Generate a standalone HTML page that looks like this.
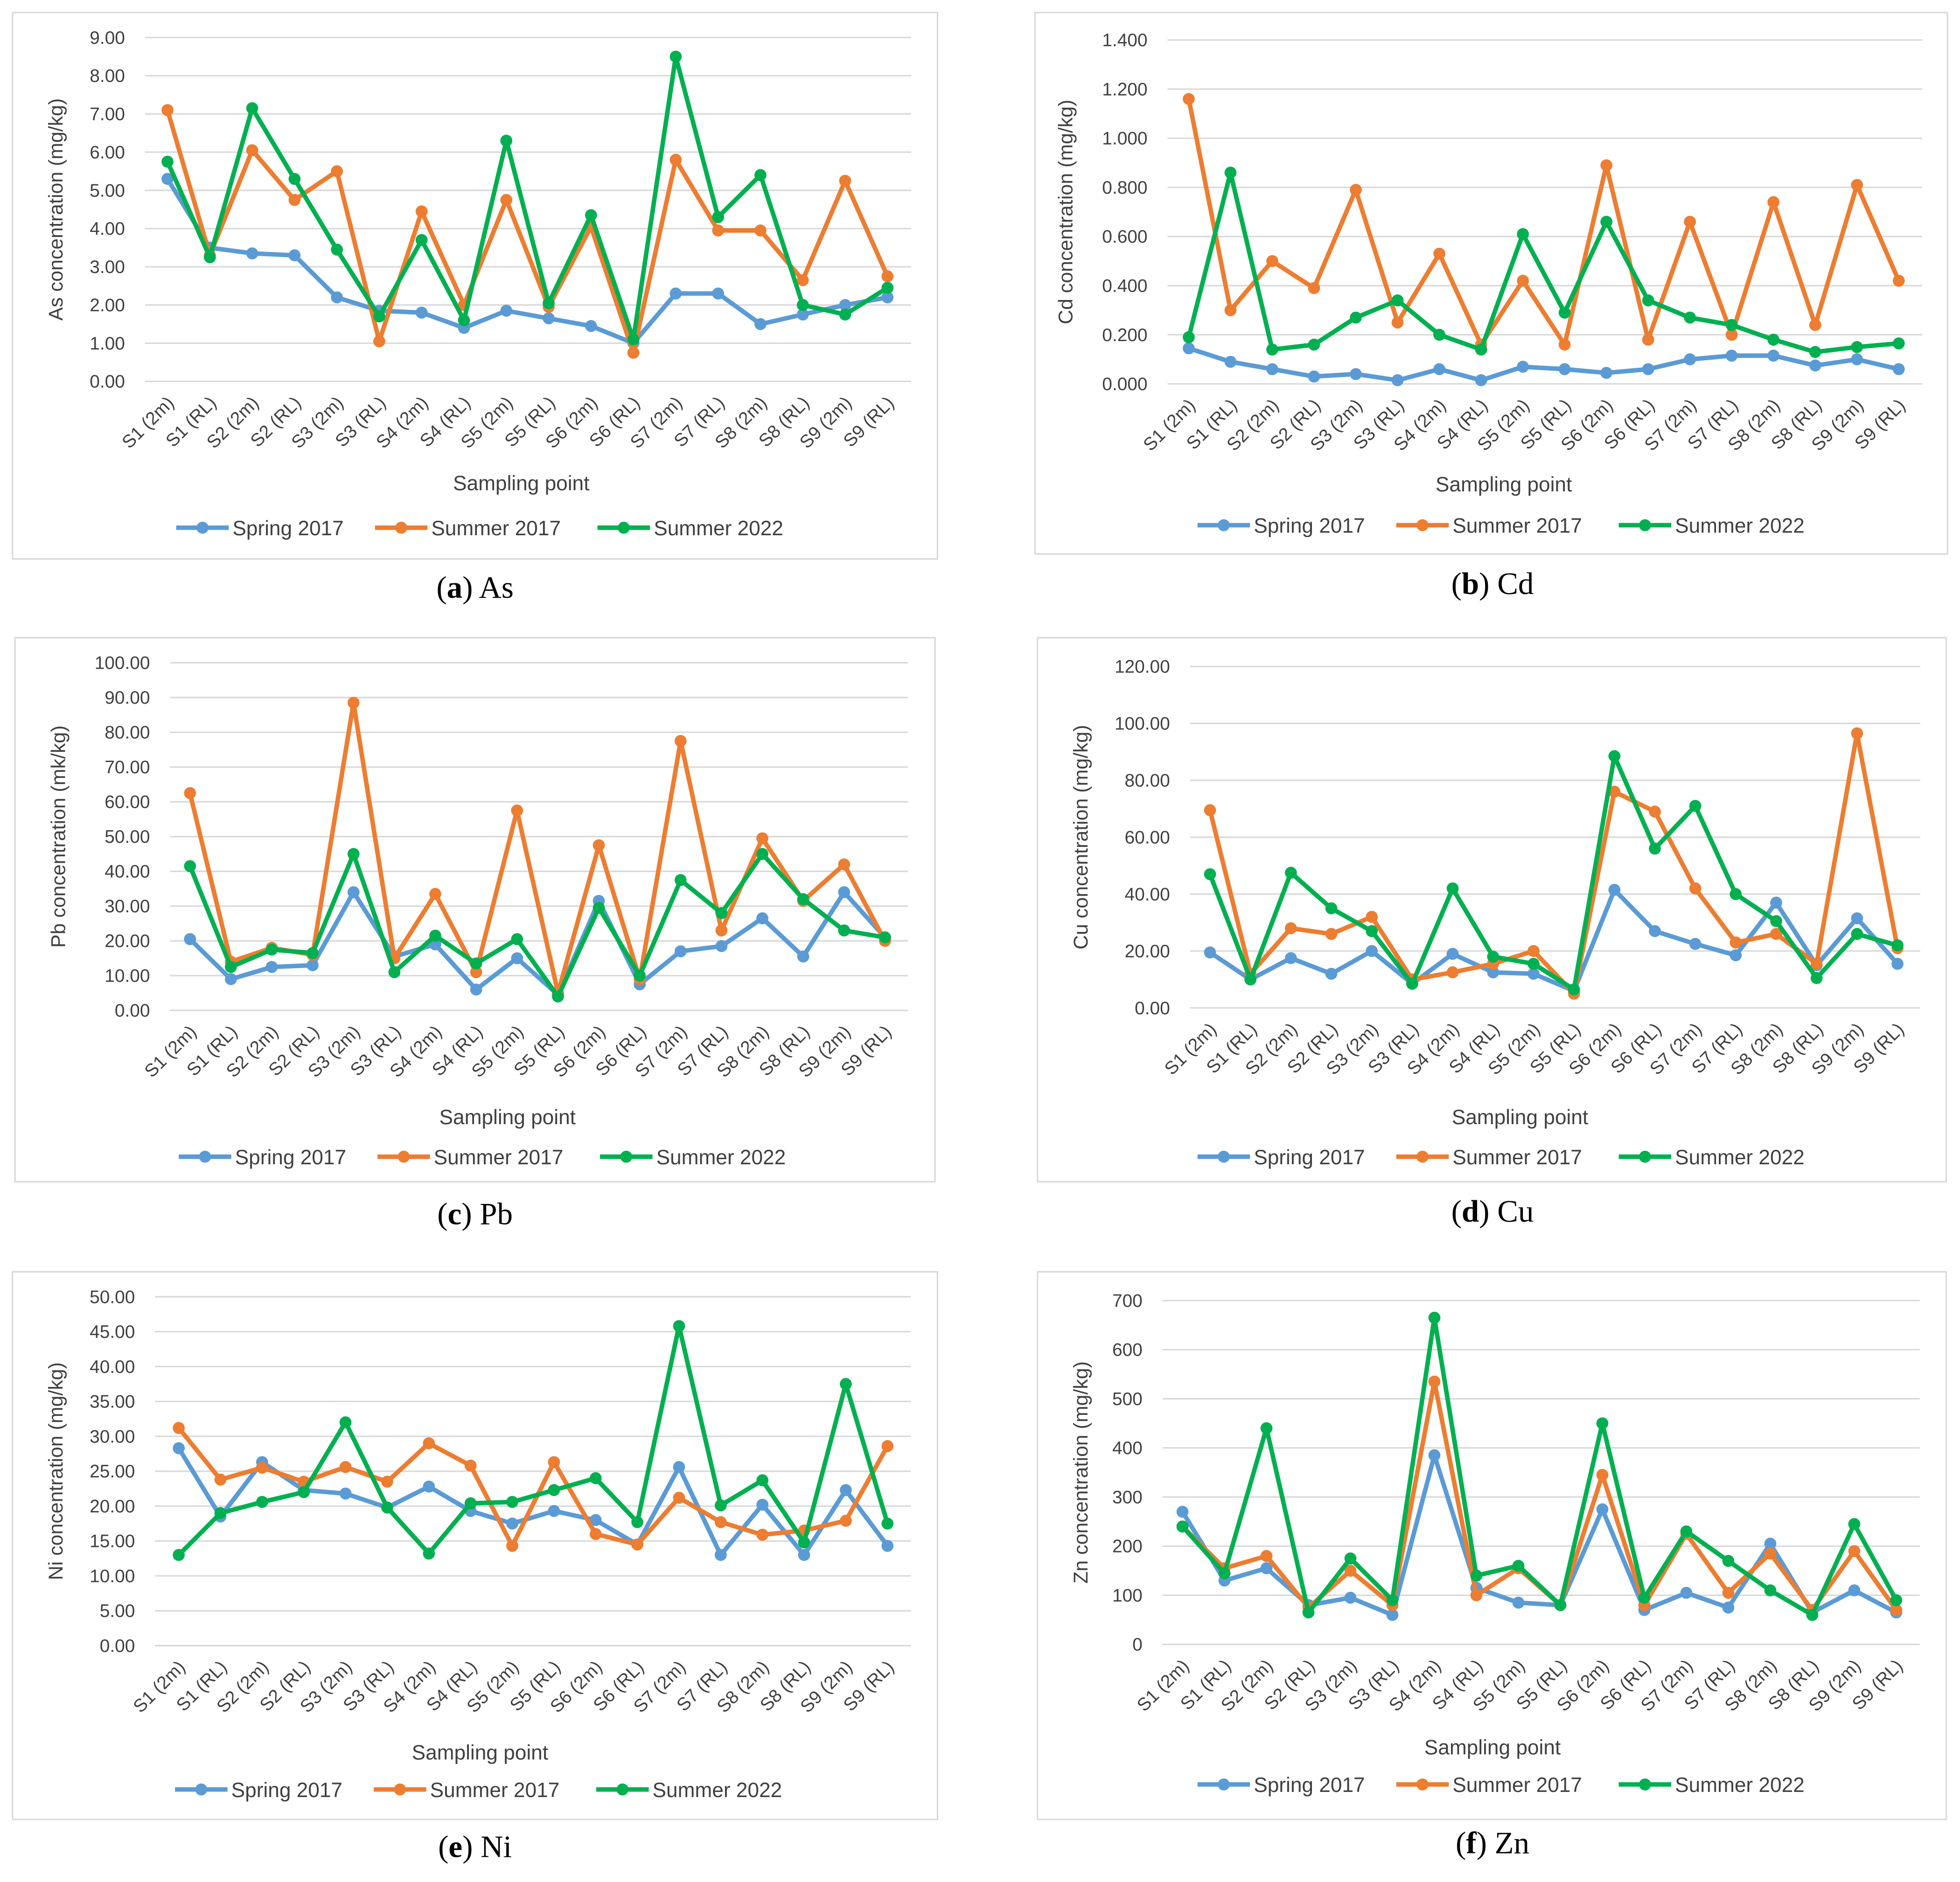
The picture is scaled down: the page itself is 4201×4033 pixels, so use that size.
<!DOCTYPE html>
<html><head><meta charset="utf-8"><style>
html,body{margin:0;padding:0;background:#fff;}
svg{display:block;}
text{font-family:"Liberation Sans","DejaVu Sans",sans-serif;fill:#404040;}
.cap{font-family:"Liberation Serif",serif;fill:#000;}
</style></head><body>
<svg id="fig" width="4201" height="4033" viewBox="0 0 1568 1505" preserveAspectRatio="none" xmlns="http://www.w3.org/2000/svg"></svg>
<script>
const categories=["S1 (2m)","S1 (RL)","S2 (2m)","S2 (RL)","S3 (2m)","S3 (RL)","S4 (2m)","S4 (RL)","S5 (2m)","S5 (RL)","S6 (2m)","S6 (RL)","S7 (2m)","S7 (RL)","S8 (2m)","S8 (RL)","S9 (2m)","S9 (RL)"];
const seriesNames=["Spring 2017","Summer 2017","Summer 2022"];
const asSpring=[5.3,3.5,3.35,3.3,2.2,1.85,1.8,1.4,1.85,1.65,1.45,1.0,2.3,2.3,1.5,1.75,2.0,2.2];
const asSummer17=[7.1,3.3,6.05,4.75,5.5,1.05,4.45,2.0,4.75,1.95,4.05,0.75,5.8,3.95,3.95,2.65,5.25,2.75];
const asSummer22=[5.75,3.25,7.15,5.3,3.45,1.7,3.7,1.6,6.3,2.05,4.35,1.1,8.5,4.3,5.4,2.0,1.75,2.45];
const cdSpring=[0.145,0.09,0.06,0.03,0.04,0.015,0.06,0.015,0.07,0.06,0.045,0.06,0.1,0.115,0.115,0.075,0.1,0.06];
const cdSummer17=[1.16,0.30,0.50,0.39,0.79,0.25,0.53,0.16,0.42,0.16,0.89,0.18,0.66,0.20,0.74,0.24,0.81,0.42];
const cdSummer22=[0.19,0.86,0.14,0.16,0.27,0.34,0.20,0.14,0.61,0.29,0.66,0.34,0.27,0.24,0.18,0.13,0.15,0.165];
const pbSpring=[20.5,9,12.5,13,34,15.5,19,6,15,4.5,31.5,7.5,17,18.5,26.5,15.5,34,21];
const pbSummer17=[62.5,14,18,16,88.5,15,33.5,11,57.5,5,47.5,9,77.5,23,49.5,31.5,42,20];
const pbSummer22=[41.5,12.5,17.5,16.5,45,11,21.5,13.5,20.5,4,29.5,10,37.5,28,45,32,23,21];
const cuSpring=[19.5,10,17.5,12,20,8.5,19,12.5,12,6,41.5,27,22.5,18.5,37,15,31.5,15.5];
const cuSummer17=[69.5,12,28,26,32,10,12.5,15.5,20,5,76,69,42,23,26,15.5,96.5,21];
const cuSummer22=[47,10,47.5,35,27,8.5,42,18,15.5,6.5,88.5,56,71,40,30.5,10.5,26,22];
const niSpring=[28.3,18.5,26.3,22.3,21.8,19.8,22.8,19.3,17.5,19.3,18.0,14.5,25.6,13.0,20.2,13.0,22.3,14.3];
const niSummer17=[31.2,23.8,25.5,23.5,25.6,23.5,29.0,25.8,14.3,26.3,16.0,14.5,21.2,17.7,15.9,16.5,17.9,28.6];
const niSummer22=[13.0,19.0,20.6,22.0,32.0,19.8,13.2,20.4,20.6,22.3,24.0,17.7,45.8,20.1,23.7,14.8,37.5,17.5];
const znSpring=[270,130,155,80,95,60,385,115,85,80,275,70,105,75,205,65,110,65];
const znSummer17=[240,155,180,75,150,80,535,100,155,80,345,80,225,105,185,70,190,70];
const znSummer22=[240,145,440,65,175,90,665,140,160,80,450,95,230,170,110,60,245,90];
const asTicks=["0.00","1.00","2.00","3.00","4.00","5.00","6.00","7.00","8.00","9.00"];
const cdTicks=["0.000","0.200","0.400","0.600","0.800","1.000","1.200","1.400"];
const pbTicks=["0.00","10.00","20.00","30.00","40.00","50.00","60.00","70.00","80.00","90.00","100.00"];
const cuTicks=["0.00","20.00","40.00","60.00","80.00","100.00","120.00"];
const niTicks=["0.00","5.00","10.00","15.00","20.00","25.00","30.00","35.00","40.00","45.00","50.00"];
const znTicks=["0","100","200","300","400","500","600","700"];

const colors=["#5B9BD5","#ED7D31","#00B050"];
const NS="http://www.w3.org/2000/svg";
const svg=document.getElementById("fig");
function mk(tag,attrs,parent){const e=document.createElementNS(NS,tag);for(const k in attrs)e.setAttribute(k,attrs[k]);(parent||svg).appendChild(e);return e;}

const panels=[
 {key:"as",letter:"a",el:"As",title:"As concentration (mg/kg)",ticks:asTicks,max:9,data:[asSpring,asSummer17,asSummer22],box:[10,10,740,437],yTop:30,yBot:305,x0:134,x1:710,labEnd:100,titleX:50,xTitleY:387,xTitleX:417,legY:422,legX:141,capX:380,capY:470},
 {key:"cd",letter:"b",el:"Cd",title:"Cd concentration (mg/kg)",ticks:cdTicks,max:1.4,data:[cdSpring,cdSummer17,cdSummer22],box:[828,10,730,433],yTop:32,yBot:307,x0:951,x1:1519,labEnd:918,titleX:858,xTitleY:388,xTitleX:1203,legY:420,legX:958,capX:1194,capY:467},
 {key:"pb",letter:"c",el:"Pb",title:"Pb concentration (mk/kg)",ticks:pbTicks,max:100,data:[pbSpring,pbSummer17,pbSummer22],box:[12,510,736,435],yTop:530,yBot:808,x0:152,x1:708,labEnd:120,titleX:52,xTitleY:894,xTitleX:406,legY:925,legX:143,capX:380,capY:971},
 {key:"cu",letter:"d",el:"Cu",title:"Cu concentration (mg/kg)",ticks:cuTicks,max:120,data:[cuSpring,cuSummer17,cuSummer22],box:[830,510,727,435],yTop:533,yBot:806,x0:968,x1:1518,labEnd:936,titleX:870,xTitleY:894,xTitleX:1216,legY:925,legX:958,capX:1194,capY:969},
 {key:"ni",letter:"e",el:"Ni",title:"Ni concentration (mg/kg)",ticks:niTicks,max:50,data:[niSpring,niSummer17,niSummer22],box:[10,1017,740,438],yTop:1037,yBot:1316,x0:143,x1:710,labEnd:108,titleX:50,xTitleY:1402,xTitleX:384,legY:1431,legX:140,capX:380,capY:1477},
 {key:"zn",letter:"f",el:"Zn",title:"Zn concentration (mg/kg)",ticks:znTicks,max:700,data:[znSpring,znSummer17,znSummer22],box:[830,1017,727,438],yTop:1040,yBot:1315,x0:946,x1:1517,labEnd:914,titleX:870,xTitleY:1398,xTitleX:1194,legY:1427,legX:958,capX:1194,capY:1474}
];

panels.forEach(p=>{
 const g=mk("g",{});
 
 
 const b=mk("rect",{x:p.box[0],y:p.box[1],width:p.box[2],height:p.box[3],fill:"#fff",stroke:"#d9d9d9","stroke-width":1.2},g);
 
 
 const n=categories.length;
 const xs=i=>p.x0+(p.x1-p.x0)*i/(n-1);
 const ys=v=>p.yBot-(p.yBot-p.yTop)*v/p.max;
 const step=(p.x1-p.x0)/(n-1);
 const gl=p.labEnd+16, gr=p.x1+step/2+2;
 p.ticks.forEach((t,i)=>{
  const v=parseFloat(t);
  const y=ys(v);
  const ln=mk("line",{x1:gl,x2:gr,y1:y,y2:y,stroke:"#d9d9d9","stroke-width":1.2},g);
  
  
  const tx=mk("text",{x:p.labEnd,y:y+5,"text-anchor":"end","font-size":14.5},g);
  tx.textContent=t;
  
  
 });
 categories.forEach((c,i)=>{
  const x=xs(i), y=p.yBot+18;
  const tx=mk("text",{x:x+6,y:y,"text-anchor":"end","font-size":14.5,transform:`rotate(-45 ${x+6} ${y})`},g);
  tx.textContent=c;
  
  
 });
 const yc=(p.yTop+p.yBot)/2;
 const yt=mk("text",{x:p.titleX,y:yc,"text-anchor":"middle","font-size":16,transform:`rotate(-90 ${p.titleX} ${yc})`},g);
 yt.textContent=p.title;
 
 
 const xt=mk("text",{x:p.xTitleX,y:p.xTitleY+5,"text-anchor":"middle","font-size":16.5},g);
 xt.textContent="Sampling point";
 
 
 p.data.forEach((arr,s)=>{
  const pts=arr.map((v,i)=>xs(i).toFixed(1)+","+ys(v).toFixed(1)).join(" ");
  const pl=mk("polyline",{points:pts,fill:"none",stroke:colors[s],"stroke-width":3.6,"stroke-linejoin":"round"},g);
  
  
  arr.forEach((v,i)=>{
   const c=mk("circle",{cx:xs(i),cy:ys(v),r:4.8,fill:colors[s]},g);
   
   
  });
 });
 const offs=[0,159,337];
 seriesNames.forEach((nm,s)=>{
  const lx=p.legX+offs[s];
  const lg=mk("g",{},g);
  
  
  mk("line",{x1:lx,x2:lx+42,y1:p.legY,y2:p.legY,stroke:colors[s],"stroke-width":3.6},lg);
  mk("circle",{cx:lx+21,cy:p.legY,r:4.8,fill:colors[s]},lg);
  const t=mk("text",{x:lx+45,y:p.legY+6,"font-size":16.5},lg);
  t.textContent=nm;
 });
 const cap=mk("text",{x:p.capX,y:p.capY+8,"text-anchor":"middle","font-size":25,class:"cap"},g);
 
 
 cap.innerHTML=`(<tspan font-weight="bold">${p.letter}</tspan>) ${p.el}`;
});
</script>
</body></html>
